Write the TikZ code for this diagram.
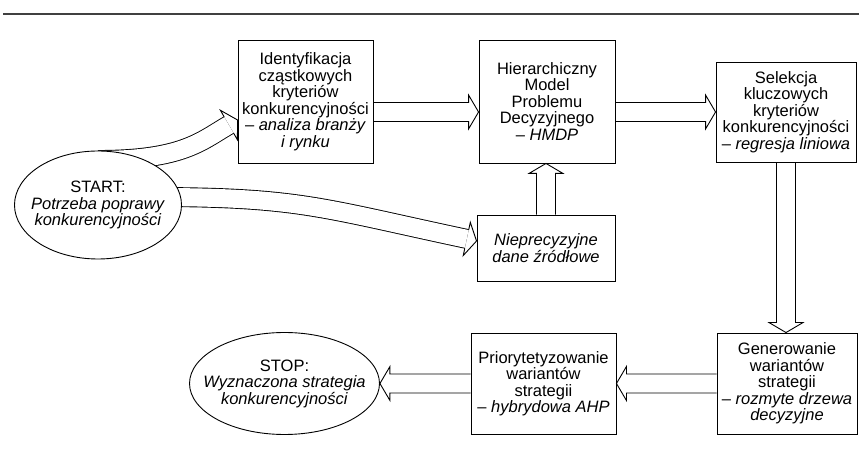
\documentclass[tikz,border=0pt]{standalone}
\usepackage{fontspec}
\setmainfont{Liberation Sans}
\usepackage{tikz}
\usetikzlibrary{calc, shapes.geometric}
\pgfdeclarelayer{background}
\pgfsetlayers{background,main}
% hollow head at a tip, turned by an angle
\newcommand{\blockhead}[2]{\draw[line width=0.9pt, shift={(#1)}, rotate=#2] (-10pt,9.5pt) -- (-10pt,17pt) -- (0,0) -- (-10pt,-17pt) -- (-10pt,-9.5pt);}
% straight hollow arrow from one point to a tip
\newcommand{\hollowarrow}[2]{\draw[line width=0.9pt] let \p1=(#1), \p2=(#2), \n1={atan2(\y2-\y1,\x2-\x1)}, \n2={veclen(\x2-\x1,\y2-\y1)} in [shift={(\p1)}, rotate=\n1] (0,9.5) -- ({\n2-10},9.5) -- ({\n2-10},17) -- (\n2,0) -- ({\n2-10},-17) -- ({\n2-10},-9.5) -- (0,-9.5);}

\begin{document}
\begin{tikzpicture}[
        x=1pt, y=1pt,
        box/.style={rectangle, draw, line width=0.9pt, fill=white, inner sep=1pt, align=center, font=\fontsize{16.5}{16.5}\selectfont},
        oval/.style={ellipse, draw, line width=0.9pt, fill=white, inner xsep=-14pt, inner ysep=0pt, align=center, font=\fontsize{16.5}{16.5}\selectfont},
        dbl/.style={double, double distance=18.1pt, line width=0.9pt},
    ]
        \useasboundingbox (0,0) rectangle (859,460);
        % Top rule
        \draw[line width=1.4pt, black!75] (3,446) -- (859,446);

        % Start
        \node[oval, minimum width=167pt, minimum height=108pt] (start) at (98,255) {START:\\\textit{Potrzeba poprawy}\\\textit{konkurencyjności}};

        % Upper row
        \node[box, minimum width=135pt, minimum height=123pt] (ident) at (305.5,358.5) {Identyfikacja\\cząstkowych\\kryteriów\\konkurencyjności\\– \textit{analiza branży}\\\textit{i rynku}};
        \node[box, minimum width=136pt, minimum height=123pt] (hmdp) at (547,358.5) {Hierarchiczny\\Model\\Problemu\\Decyzyjnego\\– \textit{HMDP}};
        \node[box, minimum width=140pt, minimum height=100pt] (selek) at (786,348) {Selekcja\\kluczowych\\kryteriów\\konkurencyjności\\– \textit{regresja liniowa}};

        % Source data
        \node[box, minimum width=138pt, minimum height=66pt] (niepr) at (546,212) {\textit{Nieprecyzyjne}\\\textit{dane źródłowe}};

        % Lower row
        \node[box, minimum width=140pt, minimum height=101pt] (gener) at (787,76.5) {Generowanie\\wariantów\\strategii\\– \textit{rozmyte drzewa}\\\textit{decyzyjne}};
        \node[box, minimum width=145pt, minimum height=101pt] (prior) at (543.5,76.5) {Priorytetyzowanie\\wariantów\\strategii\\– \textit{hybrydowa AHP}};
        \node[oval, minimum width=177pt, minimum height=102pt] (stop) at (284.5,76.5) {STOP:\\\textit{Wyznaczona strategia}\\\textit{konkurencyjności}};

        % Curved arrows from START
        \coordinate (tipa) at ([yshift=-18.5pt]ident.west);
        \coordinate (tipb) at ([yshift=7pt]niepr.west);
        \begin{pgfonlayer}{background}
            \draw[dbl] ([yshift=45pt]start.center) .. controls +(85,0) and +(210:32) .. ($(tipa)+(210:10)$);
            \draw[dbl] ([xshift=52pt, yshift=8pt]start.center) .. controls +(150,0) and +(168:150) .. ($(tipb)+(168:10)$);
        \end{pgfonlayer}
        \blockhead{tipa}{30}
        \blockhead{tipb}{-12}

        % Straight arrows
        \hollowarrow{ident.east |- selek.west}{hmdp.west |- selek.west}
        \hollowarrow{hmdp.east |- selek.west}{selek.west}
        \hollowarrow{selek.south}{selek.south |- gener.north}
        \hollowarrow{niepr.north}{niepr.north |- hmdp.south}
        \hollowarrow{gener.west}{prior.east}
        \hollowarrow{prior.west}{stop.east}
    \end{tikzpicture}
\end{document}
